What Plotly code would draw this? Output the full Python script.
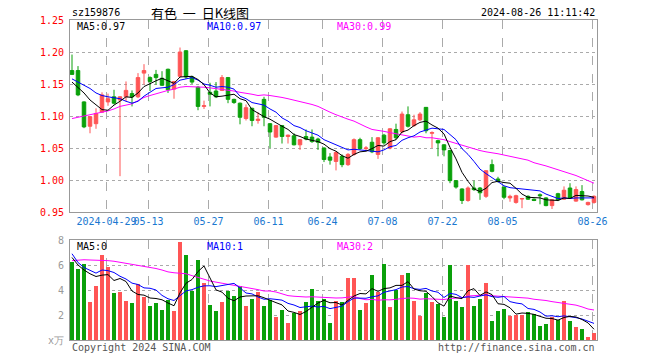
import plotly.graph_objects as go

# ---------------- data ----------------
dates = [
    "2024-04-19", "2024-04-22", "2024-04-23", "2024-04-24", "2024-04-25", "2024-04-26", "2024-04-29", "2024-04-30",
    "2024-05-06", "2024-05-07", "2024-05-08", "2024-05-09", "2024-05-10", "2024-05-13", "2024-05-14", "2024-05-15",
    "2024-05-16", "2024-05-17", "2024-05-20", "2024-05-21", "2024-05-22", "2024-05-23", "2024-05-24", "2024-05-27",
    "2024-05-28", "2024-05-29", "2024-05-30", "2024-05-31", "2024-06-03", "2024-06-04", "2024-06-05", "2024-06-06",
    "2024-06-07", "2024-06-11", "2024-06-12", "2024-06-13", "2024-06-14", "2024-06-17", "2024-06-18", "2024-06-19",
    "2024-06-20", "2024-06-21", "2024-06-24", "2024-06-25", "2024-06-26", "2024-06-27", "2024-06-28", "2024-07-01",
    "2024-07-02", "2024-07-03", "2024-07-04", "2024-07-05", "2024-07-08", "2024-07-09", "2024-07-10", "2024-07-11",
    "2024-07-12", "2024-07-15", "2024-07-16", "2024-07-17", "2024-07-18", "2024-07-19", "2024-07-22", "2024-07-23",
    "2024-07-24", "2024-07-25", "2024-07-26", "2024-07-29", "2024-07-30", "2024-07-31", "2024-08-01", "2024-08-02",
    "2024-08-05", "2024-08-06", "2024-08-07", "2024-08-08", "2024-08-09", "2024-08-12", "2024-08-13", "2024-08-14",
    "2024-08-15", "2024-08-16", "2024-08-19", "2024-08-20", "2024-08-21", "2024-08-22", "2024-08-23", "2024-08-26",
]

open_ = [1.171, 1.171, 1.122, 1.084, 1.088, 1.106, 1.122, 1.130, 1.125, 1.130,
         1.135, 1.130, 1.167, 1.160, 1.165, 1.159, 1.173, 1.142, 1.162, 1.202,
         1.161, 1.145, 1.115, 1.137, 1.139, 1.140, 1.160, 1.126, 1.120, 1.096,
         1.112, 1.093, 1.126, 1.088, 1.067, 1.085, 1.068, 1.069, 1.055, 1.068,
         1.067, 1.064, 1.050, 1.036, 1.029, 1.037, 1.024, 1.040, 1.063, 1.049,
         1.059, 1.040, 1.070, 1.050, 1.079, 1.075, 1.102, 1.085, 1.094, 1.1135,
         1.073, 1.0615, 1.055, 1.046, 0.999, 0.986, 0.968, 0.9875, 0.9875, 0.9745,
         1.024, 1.0016, 0.989, 0.972, 0.965, 0.9703, 0.9745, 0.970, 0.977, 0.972,
         0.960, 0.9786, 0.970, 0.9875, 0.967, 0.982, 0.9615, 0.965]
high = [1.196, 1.178, 1.123, 1.099, 1.112, 1.137, 1.135, 1.141, 1.131, 1.154,
        1.140, 1.167, 1.181, 1.162, 1.172, 1.170, 1.174, 1.154, 1.207, 1.203,
        1.163, 1.147, 1.124, 1.152, 1.153, 1.164, 1.161, 1.127, 1.121, 1.118,
        1.113, 1.106, 1.130, 1.089, 1.086, 1.086, 1.071, 1.073, 1.064, 1.079,
        1.079, 1.066, 1.051, 1.042, 1.045, 1.040, 1.042, 1.065, 1.066, 1.053,
        1.067, 1.067, 1.072, 1.081, 1.088, 1.107, 1.115, 1.102, 1.106, 1.114,
        1.076, 1.063, 1.056, 1.047, 1.000, 0.987, 0.990, 0.999, 0.989, 1.0146,
        1.032, 1.005, 0.990, 0.977, 0.977, 0.972, 0.976, 0.971, 0.979, 0.973,
        0.970, 0.980, 0.990, 0.995, 0.990, 0.992, 0.966, 0.976]
low = [1.165, 1.131, 1.081, 1.073, 1.080, 1.105, 1.116, 1.118, 1.006, 1.123,
       1.115, 1.128, 1.149, 1.139, 1.149, 1.147, 1.136, 1.127, 1.160, 1.158,
       1.150, 1.109, 1.111, 1.115, 1.128, 1.139, 1.120, 1.119, 1.087, 1.093,
       1.084, 1.088, 1.084, 1.050, 1.066, 1.057, 1.057, 1.054, 1.047, 1.062,
       1.058, 1.047, 1.028, 1.024, 1.015, 1.020, 1.022, 1.038, 1.047, 1.045,
       1.042, 1.033, 1.055, 1.048, 1.063, 1.073, 1.082, 1.083, 1.092, 1.073,
       1.050, 1.037, 1.037, 0.995, 0.9865, 0.9625, 0.966, 0.983, 0.969, 0.972,
       1.012, 0.996, 0.970, 0.966, 0.963, 0.956, 0.969, 0.967, 0.962, 0.959,
       0.9547, 0.967, 0.969, 0.971, 0.966, 0.968, 0.960, 0.963]
close = [1.165, 1.133, 1.083, 1.099, 1.104, 1.133, 1.127, 1.120, 1.130, 1.140,
         1.130, 1.160, 1.171, 1.154, 1.160, 1.148, 1.141, 1.154, 1.200, 1.161,
         1.153, 1.115, 1.116, 1.134, 1.130, 1.160, 1.126, 1.121, 1.098, 1.113,
         1.093, 1.095, 1.098, 1.075, 1.085, 1.068, 1.070, 1.055, 1.063, 1.064,
         1.060, 1.059, 1.032, 1.031, 1.043, 1.024, 1.040, 1.063, 1.049, 1.050,
         1.044, 1.066, 1.058, 1.080, 1.066, 1.103, 1.084, 1.094, 1.103, 1.077,
         1.074, 1.058, 1.047, 0.999, 0.989, 0.968, 0.9875, 0.985, 0.980, 1.0146,
         1.0135, 0.998, 0.973, 0.9745, 0.9755, 0.971, 0.970, 0.968, 0.9755, 0.960,
         0.969, 0.969, 0.984, 0.972, 0.985, 0.969, 0.965, 0.9745]

# volume, in units of 10,000 (万)
volume = [6.27, 5.65, 6.10, 3.07, 4.32, 6.80, 5.84, 3.76, 3.87, 3.15,
          2.96, 4.48, 3.47, 2.72, 2.99, 2.43, 3.20, 2.35, 7.87, 6.83,
          3.95, 6.40, 4.53, 2.80, 2.35, 3.07, 3.95, 3.52, 4.32, 2.72,
          3.28, 3.87, 2.72, 3.20, 1.87, 2.40, 1.39, 2.19, 2.35, 3.07,
          4.08, 3.12, 3.25, 1.39, 3.15, 3.07, 4.99, 4.99, 2.40, 2.99,
          5.20, 3.87, 6.10, 2.67, 4.00, 5.20, 5.39, 3.15, 1.95, 3.79,
          3.07, 2.88, 1.87, 6.00, 3.15, 2.67, 6.00, 2.72, 3.28, 4.59,
          1.55, 2.35, 2.48, 1.95, 2.00, 2.00, 2.24, 2.08, 1.12, 1.28,
          1.87, 1.60, 3.15, 1.55, 1.04, 0.88, 0.24, 0.59]

# moving-average lines as shown on the chart
ma5 = [1.153, 1.145, 1.136, 1.125, 1.117, 1.110, 1.109, 1.117, 1.123, 1.130,
       1.129, 1.136, 1.146, 1.151, 1.155, 1.159, 1.155, 1.151, 1.161, 1.161,
       1.162, 1.157, 1.149, 1.136, 1.130, 1.131, 1.133, 1.134, 1.127, 1.124,
       1.110, 1.104, 1.099, 1.095, 1.089, 1.084, 1.079, 1.071, 1.068, 1.064,
       1.062, 1.060, 1.056, 1.049, 1.045, 1.038, 1.034, 1.040, 1.044, 1.045,
       1.049, 1.054, 1.053, 1.060, 1.063, 1.075, 1.078, 1.085, 1.090, 1.092,
       1.086, 1.081, 1.072, 1.051, 1.033, 1.012, 0.998, 0.986, 0.982, 0.987,
       0.996, 0.998, 0.996, 0.995, 0.987, 0.978, 0.973, 0.972, 0.972, 0.969,
       0.969, 0.968, 0.972, 0.971, 0.976, 0.976, 0.975, 0.973]
ma10 = [1.158, 1.153, 1.148, 1.143, 1.136, 1.132, 1.130, 1.129, 1.127, 1.123,
        1.120, 1.123, 1.131, 1.137, 1.143, 1.144, 1.145, 1.149, 1.156, 1.158,
        1.160, 1.156, 1.150, 1.148, 1.145, 1.146, 1.145, 1.142, 1.131, 1.127,
        1.121, 1.119, 1.117, 1.111, 1.106, 1.097, 1.092, 1.085, 1.082, 1.077,
        1.073, 1.070, 1.063, 1.059, 1.055, 1.050, 1.047, 1.048, 1.047, 1.045,
        1.044, 1.044, 1.047, 1.052, 1.054, 1.062, 1.066, 1.069, 1.075, 1.078,
        1.081, 1.080, 1.079, 1.071, 1.063, 1.049, 1.040, 1.029, 1.017, 1.010,
        1.004, 0.998, 0.991, 0.988, 0.987, 0.987, 0.986, 0.984, 0.983, 0.978,
        0.974, 0.971, 0.972, 0.971, 0.972, 0.972, 0.972, 0.972]
ma30 = [1.096, 1.098, 1.100, 1.102, 1.104, 1.105, 1.108, 1.111, 1.115, 1.117,
        1.119, 1.124, 1.129, 1.132, 1.135, 1.137, 1.140, 1.142, 1.145, 1.146,
        1.146, 1.145, 1.145, 1.144, 1.143, 1.142, 1.141, 1.139, 1.137, 1.136,
        1.134, 1.132, 1.133, 1.132, 1.131, 1.129, 1.127, 1.125, 1.123, 1.120,
        1.118, 1.115, 1.110, 1.106, 1.102, 1.098, 1.095, 1.092, 1.087, 1.083,
        1.079, 1.078, 1.076, 1.074, 1.072, 1.070, 1.068, 1.067, 1.068, 1.066,
        1.066, 1.065, 1.063, 1.060, 1.057, 1.054, 1.051, 1.049, 1.046, 1.044,
        1.043, 1.041, 1.039, 1.037, 1.035, 1.033, 1.031, 1.027, 1.025, 1.022,
        1.019, 1.016, 1.014, 1.010, 1.007, 1.003, 0.999, 0.995]

vol_ma5 = [6.60, 6.00, 5.60, 5.30, 5.08, 5.19, 5.23, 4.76, 4.92, 4.68,
           3.92, 3.64, 3.59, 3.36, 3.32, 3.22, 2.96, 2.74, 3.77, 4.54,
           4.84, 5.48, 5.92, 4.90, 4.01, 3.83, 3.34, 3.14, 3.44, 3.52,
           3.56, 3.54, 3.38, 3.16, 2.99, 2.81, 2.32, 2.21, 2.04, 2.28,
           2.62, 2.96, 3.17, 2.98, 3.00, 2.80, 3.17, 3.52, 3.72, 3.69,
           4.11, 3.89, 4.11, 4.17, 4.37, 4.37, 4.67, 4.08, 3.94, 3.90,
           3.47, 2.97, 2.71, 3.52, 3.39, 3.31, 3.94, 4.11, 3.56, 3.85,
           3.63, 2.90, 2.85, 2.58, 2.07, 2.16, 2.13, 2.05, 1.89, 1.74,
           1.72, 1.59, 1.80, 1.89, 1.84, 1.64, 1.37, 0.86]
vol_ma10 = [6.90, 6.20, 5.80, 5.60, 5.35, 5.60, 5.55, 5.40, 5.10, 4.88,
            4.55, 4.44, 4.17, 4.14, 4.00, 3.57, 3.30, 3.16, 3.56, 3.93,
            4.03, 4.22, 4.33, 4.34, 4.27, 4.34, 4.41, 4.53, 4.17, 3.76,
            3.69, 3.44, 3.26, 3.30, 3.25, 3.19, 2.93, 2.80, 2.60, 2.63,
            2.71, 2.64, 2.69, 2.51, 2.64, 2.71, 3.07, 3.35, 3.35, 3.34,
            3.46, 3.53, 3.82, 3.94, 4.03, 4.24, 4.28, 4.10, 4.05, 4.13,
            3.92, 3.82, 3.40, 3.73, 3.65, 3.39, 3.45, 3.41, 3.54, 3.62,
            3.47, 3.42, 3.48, 3.07, 2.96, 2.89, 2.52, 2.45, 2.24, 1.91,
            1.94, 1.86, 1.93, 1.89, 1.79, 1.68, 1.48, 1.33]
vol_ma30 = [6.35, 6.40, 6.42, 6.40, 6.40, 6.38, 6.35, 6.30, 6.22, 6.15,
            6.08, 6.00, 5.92, 5.83, 5.72, 5.60, 5.45, 5.38, 5.35, 5.30,
            5.15, 5.00, 4.85, 4.72, 4.63, 4.55, 4.45, 4.35, 4.27, 4.19,
            4.09, 4.03, 3.92, 3.92, 3.84, 3.70, 3.55, 3.50, 3.44, 3.44,
            3.46, 3.42, 3.40, 3.36, 3.36, 3.37, 3.42, 3.48, 3.32, 3.22,
            3.25, 3.18, 3.22, 3.21, 3.26, 3.32, 3.36, 3.34, 3.27, 3.30,
            3.29, 3.26, 3.24, 3.32, 3.37, 3.38, 3.52, 3.54, 3.57, 3.61,
            3.54, 3.51, 3.48, 3.50, 3.46, 3.43, 3.35, 3.26, 3.22, 3.16,
            3.07, 3.00, 2.92, 2.88, 2.79, 2.65, 2.48, 2.40]

date_ticks = ["2024-04-29", "2024-05-13", "2024-05-27", "2024-06-11", "2024-06-24",
              "2024-07-08", "2024-07-22", "2024-08-05", "2024-08-26"]
date_tick_labels = ["2024-04-29", "05-13", "05-27", "06-11", "06-24",
                    "07-08", "07-22", "08-05", "08-26"]
price_ticks = [0.95, 1.00, 1.05, 1.10, 1.15, 1.20, 1.25]
vol_ticks = [0, 2, 4, 6, 8]
vol_tick_labels = ["x万", "2", "4", "6", "8"]

symbol = "sz159876"
title = "有色\u00a0\u00a0一\u00a0\u00a0日K线图"
stamp = "2024-08-26 11:11:42"

# ---------------- styling ----------------
UP = "#ff5555"
DOWN = "#0aa00a"
MONO = "DejaVu Sans Mono, Liberation Mono, monospace"
CJK = "Noto Sans CJK SC, sans-serif"

# page layout (window pixels); the page body adds an 8px offset, compensated here
PAGE_W, PAGE_H, OFF = 660, 360, 8
PL, PR, PT, PB = 70, 597, 20, 340          # plot area edges on the page
PRICE_BOTTOM, VOL_TOP = 212, 240
W, H = PAGE_W - OFF, PAGE_H - OFF

x = list(range(len(dates)))
vol_colors = [UP if c >= o else DOWN for o, c in zip(open_, close)]

fig = go.Figure()
fig.add_trace(go.Candlestick(
    x=x, open=open_, high=high, low=low, close=close,
    increasing=dict(line=dict(color=UP, width=1), fillcolor=UP),
    decreasing=dict(line=dict(color=DOWN, width=1), fillcolor=DOWN),
    whiskerwidth=0, xaxis="x", yaxis="y", hoverinfo="skip", showlegend=False,
))
for vals, col in [(ma30, "#ff00ff"), (ma10, "#0000ff"), (ma5, "#000000")]:
    fig.add_trace(go.Scatter(x=x, y=vals, mode="lines", line=dict(color=col, width=1),
                             xaxis="x", yaxis="y", hoverinfo="skip", showlegend=False))

fig.add_trace(go.Bar(x=x, y=volume, marker=dict(color=vol_colors, line=dict(width=0)),
                     width=0.8, xaxis="x2", yaxis="y2", hoverinfo="skip", showlegend=False))
for vals, col in [(vol_ma30, "#ff00ff"), (vol_ma10, "#0000ff"), (vol_ma5, "#000000")]:
    fig.add_trace(go.Scatter(x=x, y=vals, mode="lines", line=dict(color=col, width=1),
                             xaxis="x2", yaxis="y2", hoverinfo="skip", showlegend=False))

tickpos = [dates.index(d) - 0.25 for d in date_ticks]
xrange_ = [-1 / 3, len(dates) - 0.5]
price_dom_bottom = (PB - PRICE_BOTTOM) / (PB - PT)
vol_dom_top = (PB - VOL_TOP) / (PB - PT)

common_x = dict(range=xrange_, tickvals=tickpos, showgrid=True, gridcolor="#aaaaaa",
                griddash="dash", gridwidth=1, zeroline=False, showline=True, mirror=True,
                linecolor="#999999", linewidth=1, ticks="", fixedrange=True,
                tickangle=0, automargin=False)
common_y = dict(showgrid=True, gridcolor="#aaaaaa", griddash="dot", zeroline=False,
                showline=True, mirror=True, linecolor="#999999", linewidth=1,
                ticks="", ticklabelstandoff=3, fixedrange=True, automargin=False)

fig.update_layout(
    width=W, height=H,
    margin=dict(l=PL - OFF, r=PAGE_W - PR, t=PT - OFF, b=PAGE_H - PB, autoexpand=False),
    paper_bgcolor="white", plot_bgcolor="white", boxgap=0.16, bargap=0,
    font=dict(family=MONO, size=10, color="#000"),
    xaxis=dict(**common_x, anchor="y", ticktext=date_tick_labels,
               tickfont=dict(family=MONO, size=10, color="#1a78d0"),
               rangeslider=dict(visible=False)),
    xaxis2=dict(**common_x, anchor="y2", matches="x", showticklabels=False),
    yaxis=dict(**common_y, domain=[price_dom_bottom, 1], range=[price_ticks[0], price_ticks[-1]],
               tickvals=price_ticks, ticktext=[f"{v:.2f}" for v in price_ticks],
               tickfont=dict(family=MONO, size=10, color="#ff0000")),
    yaxis2=dict(**common_y, domain=[0, vol_dom_top], range=[vol_ticks[0], vol_ticks[-1]],
                tickvals=vol_ticks, ticktext=vol_tick_labels,
                tickfont=dict(family=MONO, size=10, color="#999999")),
)


def px(xp):
    return (xp - PL) / (PR - PL)


def py(yp):
    return (PB - yp) / (PB - PT)


def note(text, xp, yp, anchor="left", color="#000", family=MONO, size=10):
    fig.add_annotation(text=text, x=px(xp), y=py(yp), xref="paper", yref="paper",
                       xanchor=anchor, yanchor="middle", showarrow=False,
                       font=dict(family=family, size=size, color=color))


note(symbol, 70, 13)
note(title, 200, 13, anchor="center", family=CJK, size=13)
note(stamp, 597, 13, anchor="right")
note(f"MA5:{ma5[-1]:.2f}", 75, 26)
note(f"MA10:{ma10[-1]:.2f}", 205, 26, color="#0000ff")
note(f"MA30:{ma30[-1]:.2f}", 335, 26, color="#ff00ff")
note(f"MA5:{int(vol_ma5[-1])}", 75, 246)
note(f"MA10:{int(vol_ma10[-1])}", 205, 246, color="#0000ff")
note(f"MA30:{int(vol_ma30[-1])}", 335, 246, color="#ff00ff")
note("Copyright 2024 SINA.COM", 70, 347, color="#555555")
note("http://finance.sina.com.cn", 597, 347, anchor="right", color="#555555")

fig.write_html("out.html")
